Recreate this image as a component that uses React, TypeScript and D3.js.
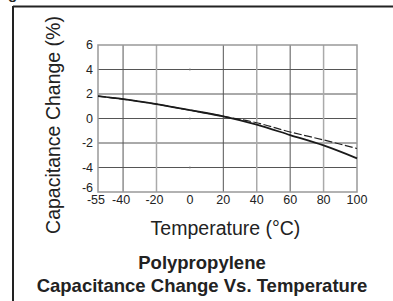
import React from "react";
import * as d3 from "d3";

const temps = [-55, -40, -20, 0, 20, 40, 60, 80, 100];
const solidSeries = [1.82, 1.58, 1.17, 0.68, 0.18, -0.5, -1.35, -2.2, -3.25];
const dashedSeries = [1.82, 1.58, 1.17, 0.68, 0.18, -0.35, -1.1, -1.75, -2.45];
const xTicks = [-55, -40, -20, 0, 20, 40, 60, 80, 100];
const yTicks = [6, 4, 2, 0, -2, -4, -6];
const darkGrid = [-40, 20, 60];
const lightGrid = [-20, 40, 80];
const faintDotsY = [4, 0, -4];

const FONT = "Liberation Sans, Arial, Helvetica, sans-serif";

export default function App() {
  const W = 393, H = 301;
  const x = d3.scaleLinear().domain([-55, 100]).range([98, 357]);
  const y = d3.scaleLinear().domain([-6, 6]).range([192, 45]);
  const line = d3
    .line<number>()
    .x((_, i) => x(temps[i]))
    .y((d) => y(d))
    .curve(d3.curveMonotoneX);

  return (
    <svg
      width={W}
      height={H}
      style={{ position: "absolute", left: 0, top: 0, background: "#fff" }}
      fontFamily={FONT}
    >
      <rect width={W} height={H} fill="#fff" />
      {/* cut-off heading fragment */}
      <text x={8} y={-1} fontSize={15} fontWeight="bold" fill="#222">g</text>
      {/* frame */}
      <line x1={13} x2={W} y1={6.5} y2={6.5} stroke="#222" strokeWidth={2} />
      <line x1={13} x2={13} y1={6} y2={H} stroke="#222" strokeWidth={2} />

      {/* horizontal grid */}
      {yTicks.slice(1, -1).map((t) => (
        <line key={"h" + t} x1={x(-55)} x2={x(100)} y1={y(t)} y2={y(t)} stroke="#555" strokeWidth={1} />
      ))}
      {/* vertical grid */}
      {darkGrid.map((t) => (
        <line key={"d" + t} x1={x(t)} x2={x(t)} y1={y(6)} y2={y(-6)} stroke="#555" strokeWidth={1} />
      ))}
      {lightGrid.map((t) => (
        <line key={"l" + t} x1={x(t)} x2={x(t)} y1={y(6)} y2={y(-6)} stroke="#aaa" strokeWidth={1.5} />
      ))}
      {faintDotsY.map((t) => (
        <rect key={"f" + t} x={x(0) - 0.5} y={y(t) - 1} width={1} height={2} fill="#777" />
      ))}
      {/* plot border */}
      <rect x={x(-55)} y={y(6)} width={x(100) - x(-55)} height={y(-6) - y(6)} fill="none" stroke="#999" strokeWidth={1.5} />

      {/* curves */}
      <path d={line(dashedSeries) || ""} fill="none" stroke="#222" strokeWidth={1.2} strokeDasharray="8,2.5" />
      <path d={line(solidSeries) || ""} fill="none" stroke="#1a1a1a" strokeWidth={1.8} />

      {/* y tick labels */}
      {yTicks.map((t, i) => (
        <text
          key={"yt" + t}
          x={93}
          y={y(t) + (i === yTicks.length - 1 ? -4 : 0)}
          dy="0.35em"
          textAnchor="end"
          fontSize={12.5}
          fill="#222"
        >
          {t}
        </text>
      ))}
      {/* x tick labels */}
      {xTicks.map((t) => (
        <text key={"xt" + t} x={x(t) - (t < 0 ? 2 : 0)} y={204} textAnchor="middle" fontSize={12.5} fill="#222">
          {t}
        </text>
      ))}

      {/* axis titles */}
      <text
        transform="translate(60,125) rotate(-90)"
        textAnchor="middle"
        fontSize={19.5}
        fill="#222"
      >
        Capacitance Change (%)
      </text>
      <text x={225.5} y={235} textAnchor="middle" fontSize={19.5} fill="#222">
        Temperature (°C)
      </text>

      {/* caption */}
      <text x={202} y={269} textAnchor="middle" fontSize={18.5} fontWeight="bold" fill="#222">
        Polypropylene
      </text>
      <text x={202} y={291.5} textAnchor="middle" fontSize={18.5} fontWeight="bold" fill="#222">
        Capacitance Change Vs. Temperature
      </text>
    </svg>
  );
}
